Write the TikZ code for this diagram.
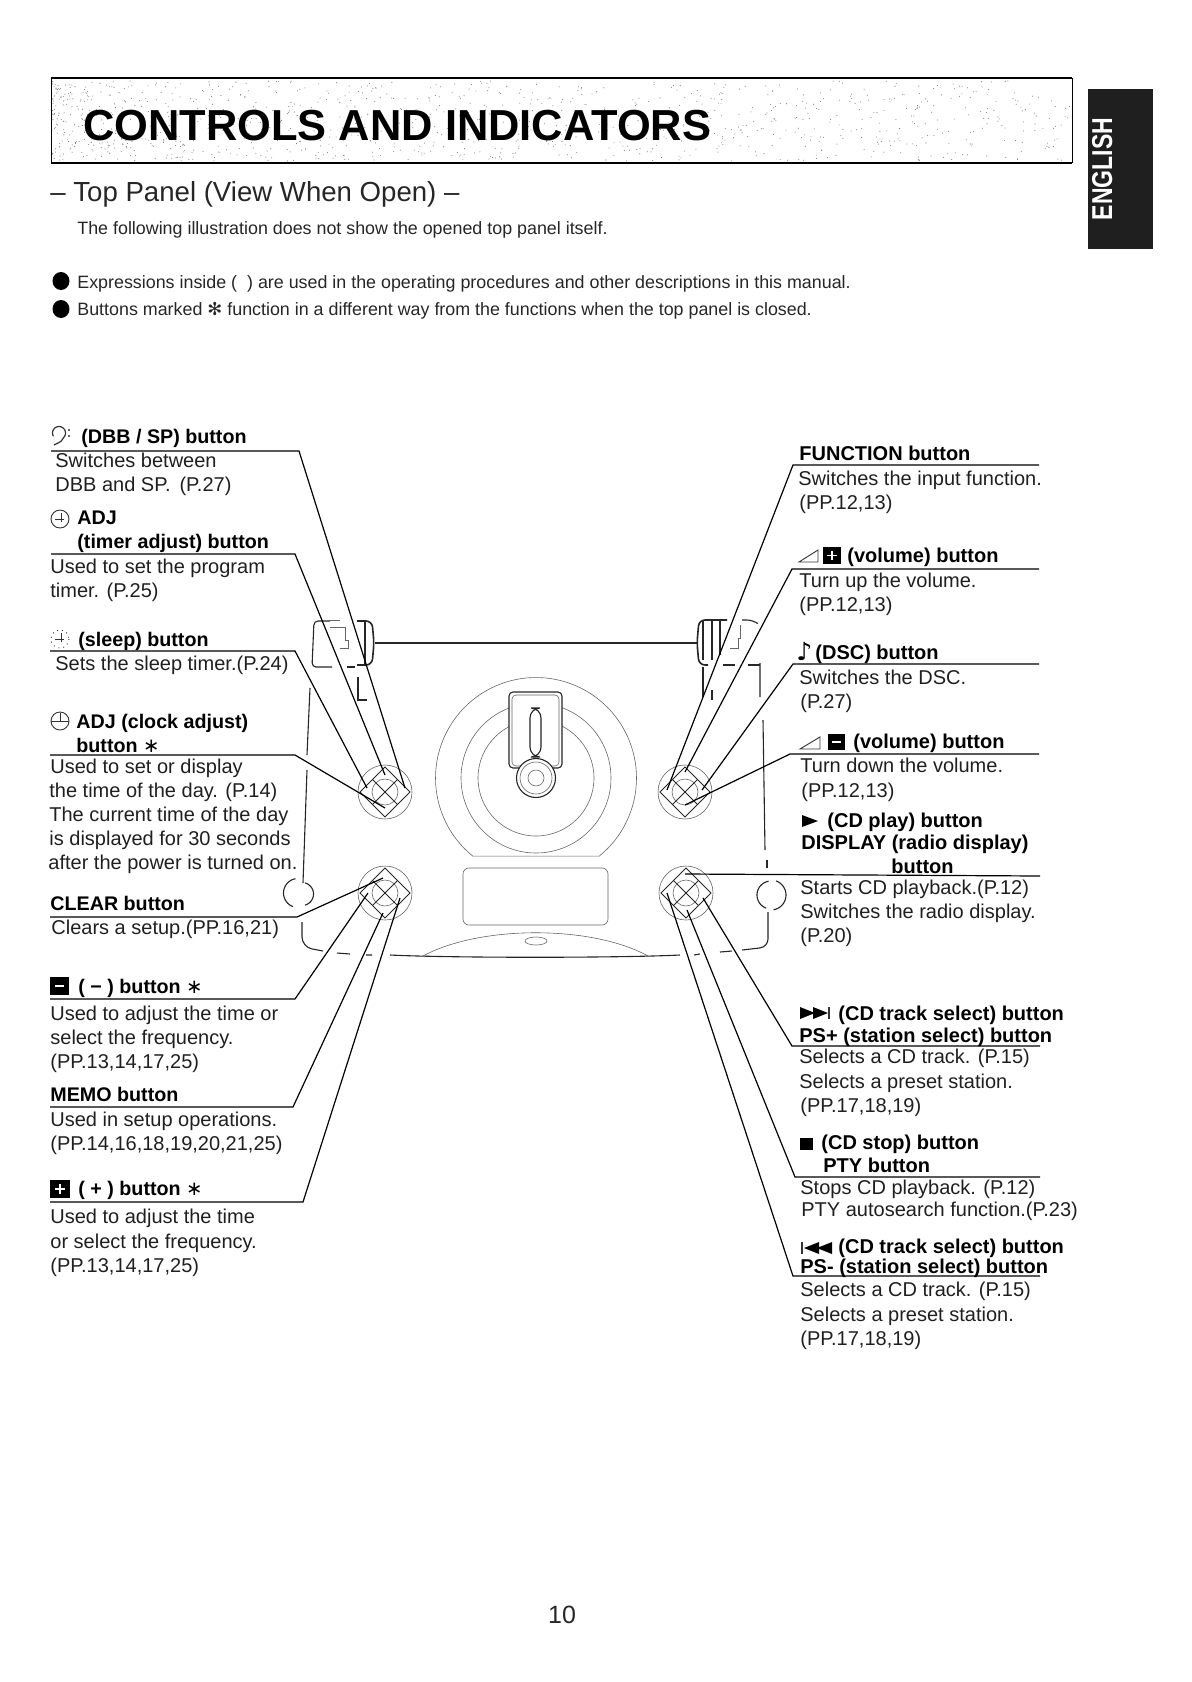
\documentclass[tikz,border=0pt]{standalone}
\usepackage{fontspec}
\usepackage{graphicx}
\setmainfont{Liberation Sans}
\newfontfamily\symf{DejaVu Sans}
\usetikzlibrary{calc}
\newcommand{\bodyf}{\fontsize{10pt}{12pt}\selectfont}
\newcommand{\headf}{\fontsize{10pt}{12pt}\selectfont\bfseries}
\newcommand{\headlf}{\fontsize{9.85pt}{12pt}\selectfont\bfseries}
\newcommand{\smallf}{\fontsize{8.93pt}{10pt}\selectfont}
\tikzset{
  txt/.style={anchor=base west,inner sep=0pt,font=\bodyf,text=black!88},
  hd/.style={anchor=base west,inner sep=0pt,font=\headf,text=black},
  hdl/.style={anchor=base west,inner sep=0pt,font=\headlf,text=black},
  fine/.style={anchor=base west,inner sep=0pt,font=\smallf,text=black!85},
  leader/.style={draw=black,line width=0.6pt,line join=miter},
  thin line/.style={draw=black!60,line width=0.3pt},
  outline/.style={draw=black!85,line width=0.55pt},
  keycap/.style={fill=black,draw=none},
  sign/.style={draw=white,line width=0.8pt},
  icon/.style={draw=black!80,line width=0.45pt},
  solid icon/.style={fill=black,draw=none},
}
\begin{document}
\begin{tikzpicture}[x=0.5pt,y=-0.5pt]
\useasboundingbox (0,0) rectangle (1192,1682);
% ---- title band
\pgfmathsetseed{4711}
\foreach \i in {1,...,1100}{
  \pgfmathsetmacro\sx{52+1018*pow(rnd,1.5)}
  \pgfmathsetmacro\sy{81+80*rnd}
  \fill[black!50] (\sx,\sy) circle (0.55);
}
\draw[draw=black,line width=0.4pt] (51,78) -- (51,163) (1072,78) -- (1072,163);
\draw[draw=black,line width=0.8pt] (51,78) -- (1072,78) (51,163) -- (1072,163);
\node[anchor=base west,inner sep=0pt,font=\fontsize{21.7pt}{26pt}\selectfont\bfseries] (title) at (83,140) {CONTROLS AND INDICATORS};
\node[anchor=base west,inner sep=0pt,font=\fontsize{13.8pt}{16pt}\selectfont,text=black!85] (subtitle) at (50,201) {– Top Panel (View When Open) –};
\node[fine] (note) at (77,234) {The following illustration does not show the opened top panel itself.};
\fill[black] (61,281) ellipse (8.5 and 9);
\node[fine] (bul1) at (77,288) {Expressions inside ( \ ) are used in the operating procedures and other descriptions in this manual.};
\fill[black] (61,309) ellipse (8.5 and 9);
\node[fine] (bul2) at (77,315) {Buttons marked {\symf ✻} function in a different way from the functions when the top panel is closed.};
% ---- language tab
\fill[black!88] (1088,89) rectangle (1153,249);
\node[rotate=90,anchor=base,inner sep=0pt,font=\fontsize{11.5pt}{14pt}\selectfont\bfseries,text=white] (lang) at (1112,169) {\scalebox{1}[1.25]{ENGLISH}};
\node[anchor=base,inner sep=0pt,font=\fontsize{12.5pt}{14pt}\selectfont,text=black!85] (pageno) at (562,1623) {10};

% ---- apparatus: centre
\draw[thin line] plot[domain=129:411,samples=90] ({536+100.5*cos(\x)},{778+100.5*sin(\x)}) -- cycle;
\draw[thin line] (536,778) circle (75);
\draw[thin line] (536,778) circle (58);
\draw[outline,fill=white,rounded corners=2] (509,692) rectangle (562,768);
\draw[thin line,rounded corners=2] (512,695) rectangle (559,766);
\draw[outline,rounded corners=5] (530,708) rectangle (541,757);
\draw[outline,fill=white] (536,778) circle (19.5);
\draw[thin line] (536,778) circle (16);
\draw[thin line] (536,778) circle (8);
\draw[thin line,rounded corners=3] (463,868) rectangle (608,925);
\draw[thin line] (423,956) .. controls (480,925) and (592,925) .. (648,956);
\draw[thin line] (536,941) ellipse (11 and 4);
% ---- apparatus: outline
\draw[outline] (390,955) .. controls (450,958) and (620,958) .. (680,955);
\draw[outline] (375,643) -- (697,643);
\draw[outline,rounded corners=3,line width=0.8pt] (357,621) -- (372,621) -- (374,643) -- (372,665) -- (357,665);
\draw[outline] (365,621) -- (365,665);
\draw[outline,rounded corners=2] (330,621) -- (314,621) -- (312,667) -- (332,667);
\draw[outline] (347,667) -- (355,667);
\draw[thin line] (328,620) -- (340,620);
\draw[thin line] (330,627) -- (345,627) -- (345,640) -- (348,640) -- (348,648) -- (340,648);
\draw[outline] (358,677) -- (358,700) -- (367,700);
\draw[outline,rounded corners=3,line width=0.8pt] (727,620) -- (699,620) -- (697,643) -- (699,665) -- (708,665);
\draw[outline] (703,620) -- (703,660) (712,620) -- (712,660) (720,620) -- (720,655);
\draw[outline] (703,667) -- (703,697) (712,690) -- (712,700);
\draw[outline] (723,665) -- (735,665) (748,665) -- (760,665);
\draw[outline,rounded corners=3] (742,620) -- (753,620) -- (757,623);
\draw[thin line] (730,648) -- (738,648) -- (738,638) -- (740,638) -- (740,625);
\draw[outline] (310,688) -- (307,755) (307,770) -- (303,883);
\draw[outline] plot[domain=-100:-250,samples=30] ({298+14.5*cos(\x)},{893+14.5*sin(\x)});
\draw[outline] plot[domain=-75:75,samples=20] ({302+11.5*cos(\x)},{894+11.5*sin(\x)});
\draw[outline,rounded corners=5] (302,922) -- (302,947) -- (323,951);
\draw[outline] (337,953) -- (350,954) (366,955) -- (372,955);
\draw[outline] (760,663) -- (760,697) (763,720) -- (765,850);
\draw[outline] (767,860) -- (767,868);
\draw[outline] plot[domain=-100:-250,samples=30] ({771+14*cos(\x)},{895+14*sin(\x)});
\draw[outline] plot[domain=-70:80,samples=20] ({771+15*cos(\x)},{895+15*sin(\x)});
\draw[outline,rounded corners=4] (768,912) -- (768,947) -- (742,950);
\draw[outline] (720,952) -- (732,951) (694,955) -- (700,954);
% ---- knobs
\foreach \n/\cx/\cy in {ktl/385/792,ktr/685/792,kbl/385/893,kbr/686/893}{
  \coordinate (\n) at (\cx,\cy);
  \draw[thin line] (\n) circle (27);
  \draw[thin line] (\n) circle (13);
  \draw[draw=black!85,line width=0.45pt] ($(\n)+(0,-25)$) -- ($(\n)+(25,0)$) -- ($(\n)+(0,25)$) -- ($(\n)+(-25,0)$) -- cycle;
  \draw[draw=black!85,line width=0.45pt] ($(\n)+(-12.5,-12.5)$) -- ($(\n)+(12.5,12.5)$) ($(\n)+(12.5,-12.5)$) -- ($(\n)+(-12.5,12.5)$);
}
% ---- connector ends
\coordinate (t1) at (405,788); \coordinate (t2) at (385,775); \coordinate (t3) at (367,788); \coordinate (t4) at (385,808);
\coordinate (t5) at (383,878); \coordinate (t6) at (368,893); \coordinate (t7) at (383,913); \coordinate (t8) at (400,898);
\coordinate (t9) at (667,790); \coordinate (t10) at (685,772); \coordinate (t11) at (702,790); \coordinate (t12) at (685,805);
\coordinate (t13) at (685,874); \coordinate (t14) at (703,898); \coordinate (t15) at (687,910); \coordinate (t16) at (667,893);
% left rules
\foreach \i/\xa/\ya/\xb in {1/51/451/299,2/51/554/295,3/50/651/295,4/50/755/295,5/50/917/297,6/50/999/295,7/50/1107/293,8/50/1202/303}{
  \coordinate (ra\i) at (\xa,\ya); \coordinate (rb\i) at (\xb,\ya);
  \draw[leader] (ra\i) -- (rb\i) -- (t\i);
}
% right rules
\foreach \i/\xa/\ya/\xb in {9/793/465/1039,10/792/569/1039,11/793/664/1039,12/790/754/1039,14/792/1046/1040,15/795/1177/1040,16/793/1276/1040}{
  \coordinate (ra\i) at (\xa,\ya); \coordinate (rb\i) at (\xb,\ya);
  \draw[leader] (rb\i) -- (ra\i) -- (t\i);
}
\coordinate (rb13) at (1040,876);
\draw[leader] (rb13) -- (t13);
% ---- left column
\draw[icon,line width=0.6pt] plot[domain=150:400,samples=20] ({59+6.5*cos(\x)},{433+6.5*sin(\x)}) .. controls (62,441) .. (54,445);
\fill[black!80] (69,430) circle (1.2) (69,436) circle (1.2);
\node[hdl] (h1) at (81,443) {(DBB / SP) button};
\node[txt] (b1a) at (55,467) {Switches between};
\node[txt] (b1b) at (55,491) {DBB and SP. \,(P.27)};
\draw[icon] (60,519) circle (9);
\draw[icon] (55,519) -- (64,519) (61,513) -- (61,522);
\node[hdl] (h2a) at (77,524) {ADJ};
\node[hdl] (h2b) at (77,548) {(timer adjust) button};
\node[txt] (b2a) at (50,573) {Used to set the program};
\node[txt] (b2b) at (50,597) {timer. (P.25)};
\draw[icon,dotted] (60,639) circle (9);
\draw[icon] (55,639) -- (64,639) (61,633) -- (61,642);
\node[hdl] (h3) at (78,646) {(sleep) button};
\node[txt] (b3) at (55,670) {Sets the sleep timer.(P.24)};
\draw[icon] (60,721) circle (9);
\draw[icon] (51,721) -- (69,721) (60,713) -- (60,721);
\node[hdl] (h4a) at (76,728) {ADJ (clock adjust)};
\node[hdl] (h4b) at (76,752) {button {\symf\mdseries ∗}};
\node[txt] (b4a) at (50,773) {Used to set or display};
\node[txt] (b4b) at (49,797) {the time of the day. (P.14)};
\node[txt] (b4c) at (49,821) {The current time of the day};
\node[txt] (b4d) at (49,845) {is displayed for 30 seconds};
\node[txt] (b4e) at (48,869) {after the power is turned on.};
\node[hdl] (h5) at (50,910) {CLEAR button};
\node[txt] (b5) at (51,934) {Clears a setup.(PP.16,21)};
\fill[keycap] (50,977) rectangle (69,995);
\draw[sign] (55,986) -- (64,986);
\node[hdl] (h6) at (78,993) {( − ) button {\symf\mdseries ∗}};
\node[txt] (b6a) at (50,1020) {Used to adjust the time or};
\node[txt] (b6b) at (50,1044) {select the frequency.};
\node[txt] (b6c) at (50,1068) {(PP.13,14,17,25)};
\node[hdl] (h7) at (50,1101) {MEMO button};
\node[txt] (b7a) at (50,1126) {Used in setup operations.};
\node[txt] (b7b) at (50,1150) {(PP.14,16,18,19,20,21,25)};
\fill[keycap] (50,1180) rectangle (70,1198);
\draw[sign] (55,1189) -- (65,1189) (60,1184) -- (60,1194);
\node[hdl] (h8) at (78,1195) {( + ) button {\symf\mdseries ∗}};
\node[txt] (b8a) at (50,1223) {Used to adjust the time};
\node[txt] (b8b) at (50,1248) {or select the frequency.};
\node[txt] (b8c) at (50,1272) {(PP.13,14,17,25)};
% ---- right column
\node[hd] (h9) at (799,460) {FUNCTION button};
\node[txt] (b9a) at (798,485) {Switches the input function.};
\node[txt] (b9b) at (799,509) {(PP.12,13)};
\draw[icon] (799,562) -- (818,562) -- (818,550) -- cycle;
\fill[keycap] (823,547) rectangle (841,564);
\draw[sign] (827,555.5) -- (837,555.5) (832,551) -- (832,560);
\node[hd] (h10) at (847,562) {(volume) button};
\node[txt] (b10a) at (799,587) {Turn up the volume.};
\node[txt] (b10b) at (799,611) {(PP.12,13)};
\node[hd,font=\symf\fontsize{12.5pt}{12pt}\selectfont] (h11n) at (796,660) {♪};
\node[hd] (h11) at (815,659) {(DSC) button};
\node[txt] (b11a) at (799,684) {Switches the DSC.};
\node[txt] (b11b) at (800,708) {(P.27)};
\draw[icon] (800,749) -- (820,749) -- (820,737) -- cycle;
\fill[keycap] (828,734) rectangle (845,750);
\draw[sign] (832,742) -- (841,742);
\node[hd] (h12) at (853,748) {(volume) button};
\node[txt] (b12a) at (800,772) {Turn down the volume.};
\node[txt] (b12b) at (801,797) {(PP.12,13)};
\fill[solid icon] (802,815) -- (818,821) -- (802,827) -- cycle;
\node[hd] (h13a) at (827,827) {(CD play) button};
\node[hd] (h13b) at (801,849) {DISPLAY (radio display)};
\node[hd] (h13c) at (891,873) {button};
\node[txt] (b13a) at (800,894) {Starts CD playback.(P.12)};
\node[txt] (b13b) at (800,918) {Switches the radio display.};
\node[txt] (b13c) at (800,942) {(P.20)};
\fill[solid icon] (800,1007) -- (815,1013) -- (800,1019) -- cycle (813,1007) -- (828,1013) -- (813,1019) -- cycle;
\draw[icon,line width=0.9pt] (829,1007) -- (829,1019);
\node[hd] (h14a) at (838,1020) {(CD track select) button};
\node[hd] (h14b) at (799,1042) {PS+ (station select) button};
\node[txt] (b14a) at (799,1063) {Selects a CD track. (P.15)};
\node[txt] (b14b) at (799,1088) {Selects a preset station.};
\node[txt] (b14c) at (800,1112) {(PP.17,18,19)};
\fill[solid icon] (800,1138) rectangle (813,1150);
\node[hd] (h15a) at (821,1149) {(CD stop) button};
\node[hd] (h15b) at (823,1172) {PTY button};
\node[txt] (b15a) at (800,1194) {Stops CD playback. (P.12)};
\node[txt] (b15b) at (801,1216) {PTY autosearch function.(P.23)};
\draw[icon,line width=0.9pt] (802,1242) -- (802,1254);
\fill[solid icon] (832,1242) -- (817,1248) -- (832,1254) -- cycle (819,1242) -- (804,1248) -- (819,1254) -- cycle;
\node[hd] (h16a) at (838,1253) {(CD track select) button};
\node[hd] (h16b) at (800,1273) {PS- (station select) button};
\node[txt] (b16a) at (800,1296) {Selects a CD track. (P.15)};
\node[txt] (b16b) at (800,1321) {Selects a preset station.};
\node[txt] (b16c) at (800,1345) {(PP.17,18,19)};
\end{tikzpicture}
\end{document}
